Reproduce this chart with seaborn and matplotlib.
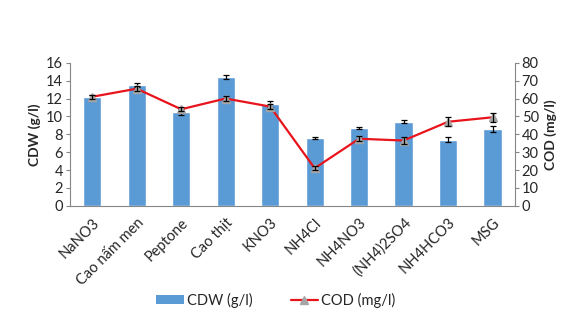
import matplotlib
matplotlib.use("Agg")
import matplotlib.pyplot as plt
import seaborn as sns
import pandas as pd
import numpy as np
from matplotlib.lines import Line2D
from matplotlib.patches import Patch

categories = ["NaNO3", "Cao nấm men", "Peptone", "Cao thịt", "KNO3", "NH4Cl",
              "NH4NO3", "(NH4)2SO4", "NH4HCO3", "MSG"]
cdw = [12.2, 13.5, 10.5, 14.4, 11.4, 7.6, 8.7, 9.4, 7.4, 8.6]
cdw_err = [0.25, 0.25, 0.3, 0.25, 0.3, 0.12, 0.08, 0.15, 0.3, 0.3]
cod = [61, 65.5, 54, 60, 55.5, 21, 37.5, 36.5, 47, 49.5]
cod_err = [1.0, 1.5, 1.0, 1.5, 1.5, 1.0, 1.5, 2.0, 2.5, 2.5]

sns.set_theme(style="white")
plt.rcParams["font.family"] = ["Lato", "DejaVu Sans"]

fig = plt.figure(figsize=(5.81, 3.22), dpi=100)
ax = fig.add_axes([0.1205, 0.361, 0.7655, 0.444])

df = pd.DataFrame({"cat": categories, "cdw": cdw})
sns.barplot(data=df, x="cat", y="cdw", color="#5B9BD5", saturation=1, width=0.41, ax=ax)
x = np.arange(len(categories))
ax.errorbar(x, cdw, yerr=cdw_err, fmt="none", ecolor="black", elinewidth=0.9, capsize=2.5, capthick=0.9)

ax2 = ax.twinx()
ax2.plot(x, cod, color="#E8141B", lw=1.6, marker="^", markersize=6,
         markerfacecolor="#A5A5A5", markeredgecolor="#A5A5A5", zorder=3)
ax2.errorbar(x, cod, yerr=cod_err, fmt="none", ecolor="black", elinewidth=0.9, capsize=2.5, capthick=0.9, zorder=4)

ax.set_xlim(-0.5, 9.5)
ax.set_ylim(0, 16)
ax.set_yticks(range(0, 17, 2))
ax2.set_ylim(0, 80)
ax2.set_yticks(range(0, 81, 10))

ax.set_xlabel("")
ax.set_ylabel("CDW (g/l)", fontsize=10, fontweight="bold", labelpad=4)
ax2.set_ylabel("COD (mg/l)", fontsize=10, fontweight="bold", labelpad=4)

ax.set_xticks(x)
ax.set_xticklabels(categories, rotation=45, ha="right", rotation_mode="anchor", fontsize=10.5)
ax.tick_params(axis="y", labelsize=10.5, left=True, length=3, color="#868686", width=0.8, pad=2)
ax2.tick_params(axis="y", labelsize=10.5, right=True, length=3, color="#868686", width=0.8, pad=2)
ax.tick_params(axis="x", length=0, pad=7)

for a in (ax, ax2):
    for s in a.spines.values():
        s.set_visible(False)
ax.spines["left"].set_visible(True)
ax.spines["bottom"].set_visible(True)
ax2.spines["right"].set_visible(True)
for s in (ax.spines["left"], ax.spines["bottom"], ax2.spines["right"]):
    s.set_color("#868686")
    s.set_linewidth(0.8)

handles = [Patch(facecolor="#5B9BD5", edgecolor="none"),
           Line2D([0], [0], color="#E8141B", lw=1.6, marker="^", markersize=6,
                  markerfacecolor="#A5A5A5", markeredgecolor="#A5A5A5")]
fig.legend(handles, ["CDW (g/l)", "COD (mg/l)"], loc="center", bbox_to_anchor=(0.475, 0.068),
           ncol=2, frameon=False, fontsize=10.5, handlelength=1.9, handleheight=0.6,
           columnspacing=2.6, handletextpad=0.2)

fig.savefig("out.png", dpi=100)
